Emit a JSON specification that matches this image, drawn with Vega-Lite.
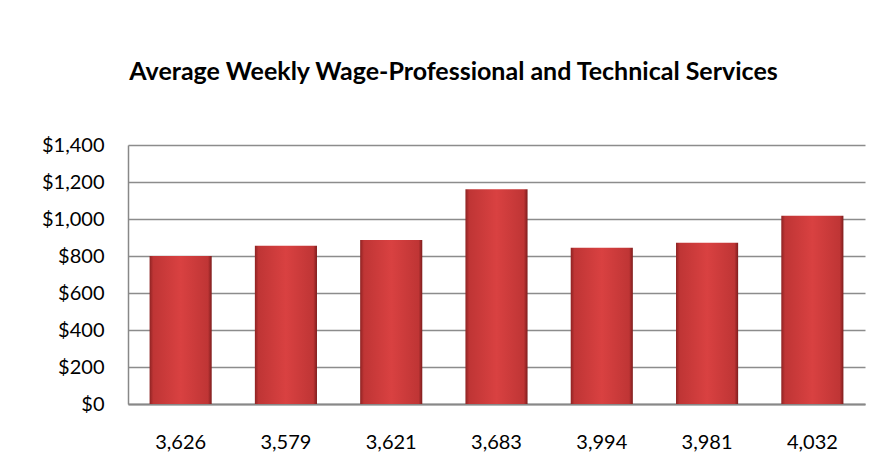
{
  "$schema": "https://vega.github.io/schema/vega-lite/v6.json",
  "autosize": {"type": "none"},
  "width": 737,
  "height": 259,
  "padding": {"left": 128, "top": 145, "right": 25, "bottom": 67},
  "background": "white",
  "title": {
    "text": "Average Weekly Wage-Professional and Technical Services",
    "font": "Lato",
    "fontSize": 25,
    "fontWeight": "bold",
    "color": "#000000",
    "anchor": "middle",
    "frame": "group",
    "dx": -43,
    "baseline": "alphabetic",
    "offset": 30
  },
  "data": {
    "values": [
      {"label": "3,626", "wage": 800},
      {"label": "3,579", "wage": 855},
      {"label": "3,621", "wage": 887},
      {"label": "3,683", "wage": 1161},
      {"label": "3,994", "wage": 844},
      {"label": "3,981", "wage": 871},
      {"label": "4,032", "wage": 1017}
    ]
  },
  "mark": {
    "type": "bar",
    "color": {
      "gradient": "linear",
      "x1": 0, "x2": 1, "y1": 0, "y2": 0,
      "stops": [
        {"offset": 0, "color": "#8e2323"},
        {"offset": 0.06, "color": "#bf3535"},
        {"offset": 0.5, "color": "#d94141"},
        {"offset": 0.94, "color": "#bf3535"},
        {"offset": 1, "color": "#7e1d1d"}
      ]
    }
  },
  "encoding": {
    "x": {
      "field": "label",
      "type": "nominal",
      "sort": null,
      "scale": {"paddingInner": 0.41, "paddingOuter": 0.205},
      "axis": {
        "title": null,
        "labelAngle": 0,
        "labelFont": "Lato",
        "labelFontSize": 20,
        "labelColor": "#000000",
        "labelPadding": 28,
        "ticks": false,
        "domainColor": "#888888",
        "domainWidth": 2,
        "grid": false
      }
    },
    "y": {
      "field": "wage",
      "type": "quantitative",
      "scale": {"domain": [0, 1400], "nice": false},
      "axis": {
        "title": null,
        "values": [0, 200, 400, 600, 800, 1000, 1200, 1400],
        "format": "$,.0f",
        "labelFont": "Lato",
        "labelFontSize": 20,
        "labelColor": "#000000",
        "labelPadding": 24,
        "ticks": false,
        "domainColor": "#888888",
        "domainWidth": 1.5,
        "gridColor": "#8c8c8c",
        "gridWidth": 1.5
      }
    }
  },
  "config": {"view": {"stroke": null}}
}
